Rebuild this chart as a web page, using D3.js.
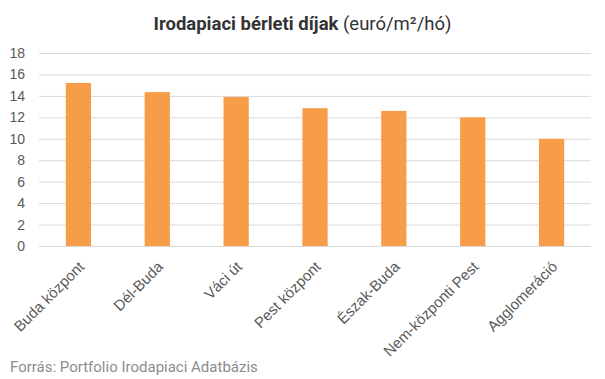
<!DOCTYPE html>
<html>
<head>
<meta charset="utf-8">
<script src="https://cdn.jsdelivr.net/npm/d3@7"></script>
<style>
  body { margin: 0; background: #fff; }
  svg { font-family: Roboto, "Liberation Sans", sans-serif; }
</style>
</head>
<body>
<script>
const w = 605;
const h = 379;
const categories = ["Buda központ", "Dél-Buda", "Váci út", "Pest központ", "Észak-Buda", "Nem-központi Pest", "Agglomeráció"];
const values = [15.2, 14.35, 13.9, 12.85, 12.6, 12.0, 10.0];
const yTicks = [0, 2, 4, 6, 8, 10, 12, 14, 16, 18];
const barColor = "#f79c47";
const margin = { top: 53, right: 14, bottom: 133, left: 39 };

const svg = d3.select("body").append("svg").attr("width", w).attr("height", h);

const xScale = d3.scaleBand()
  .domain(categories)
  .range([margin.left, w - margin.right])
  .paddingInner(0.68)
  .paddingOuter(0.34);
const yScale = d3.scaleLinear()
  .domain([0, 18])
  .range([h - margin.bottom, margin.top]);

// grid
const yAxis = d3.axisLeft(yScale)
  .tickValues(yTicks)
  .tickSize(-(w - margin.left - margin.right))
  .tickPadding(14);
const gy = svg.append("g")
  .attr("transform", `translate(${margin.left}, 0)`)
  .call(yAxis);
gy.select(".domain").remove();
gy.selectAll(".tick line").attr("stroke", "#d9d9d9").attr("stroke-width", 1);
gy.selectAll(".tick text")
  .attr("fill", "#595959")
  .attr("font-size", 14);

// bars
svg.selectAll("rect.bar")
  .data(values)
  .enter()
  .append("rect")
  .attr("class", "bar")
  .attr("x", (d, i) => xScale(categories[i]))
  .attr("y", (d) => yScale(d))
  .attr("width", xScale.bandwidth())
  .attr("height", (d) => yScale(0) - yScale(d))
  .attr("fill", barColor);

// x axis labels
const xAxis = d3.axisBottom(xScale).tickSize(0).tickPadding(0);
const gx = svg.append("g")
  .attr("transform", `translate(0, ${yScale(0)})`)
  .call(xAxis);
gx.select(".domain").remove();
gx.selectAll(".tick text")
  .attr("fill", "#595959")
  .attr("font-size", 15)
  .attr("text-anchor", "end")
  .attr("dy", "0.35em")
  .attr("transform", "translate(3, 18) rotate(-45)");

// title
const title = svg.append("text")
  .attr("x", w / 2)
  .attr("y", 30)
  .attr("text-anchor", "middle")
  .attr("font-size", 18.5)
  .attr("fill", "#333");
title.append("tspan").attr("font-weight", "bold").text("Irodapiaci bérleti díjak");
title.append("tspan").text(" (euró/m²/hó)");

// source
svg.append("text")
  .attr("x", 10)
  .attr("y", 372)
  .attr("font-size", 15)
  .attr("fill", "#8c8c8c")
  .text("Forrás: Portfolio Irodapiaci Adatbázis");
</script>
</body>
</html>
